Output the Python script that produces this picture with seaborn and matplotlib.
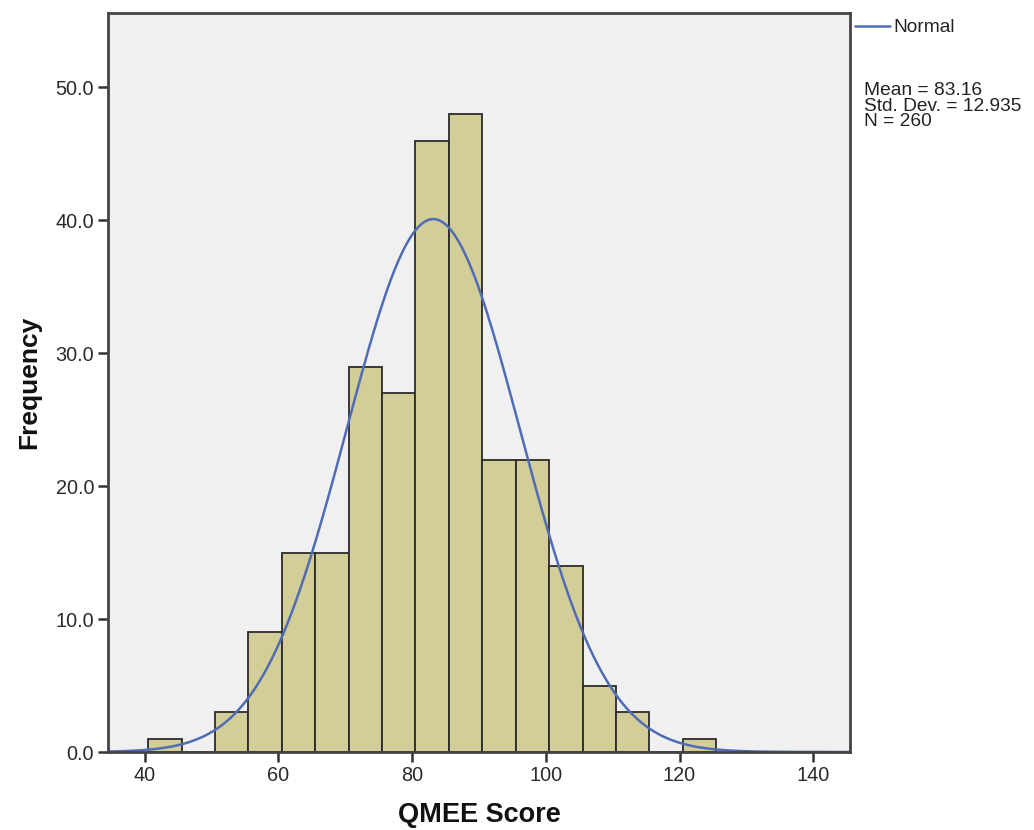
import numpy as np
import pandas as pd
import seaborn as sns
import matplotlib.pyplot as plt
from matplotlib.ticker import FormatStrFormatter

# histogram of QMEE scores (bins of width 5)
bin_left = [40.5, 45.5, 50.5, 55.5, 60.5, 65.5, 70.5, 75.5, 80.5, 85.5,
            90.5, 95.5, 100.5, 105.5, 110.5, 115.5, 120.5]
counts = [1, 0, 3, 9, 15, 15, 29, 27, 46, 48, 22, 22, 14, 5, 3, 0, 1]
mean_score = 83.16
std_score = 12.935
n_total = 260
bin_width = 5

sns.set_theme(style="white")
plt.rcParams['font.family'] = ['Liberation Sans', 'DejaVu Sans']

df = pd.DataFrame({'score': np.array(bin_left) + bin_width / 2, 'count': counts})
edges = list(bin_left) + [bin_left[-1] + bin_width]

fig = plt.figure(figsize=(10.34, 8.3), dpi=100)
ax = fig.add_axes([108 / 1034, 1 - 752 / 830, (850 - 108) / 1034, (752 - 13) / 830])
ax.set_facecolor('#F0F0F0')

sns.histplot(data=df, x='score', weights='count', bins=edges, ax=ax,
             color='#D3CE97', alpha=1, edgecolor='#2b2b2b', linewidth=1.3)

# fitted normal curve (from the mean / sd / N shown on the chart)
xs = np.linspace(34.5, 145.5, 400)
ys = n_total * bin_width * np.exp(-0.5 * ((xs - mean_score) / std_score) ** 2) / (std_score * np.sqrt(2 * np.pi))
sns.lineplot(x=xs, y=ys, ax=ax, color='#4F6CB5', linewidth=1.8)

ax.set_xlim(34.5, 145.5)
ax.set_ylim(0, 55.6)
ax.set_xticks([40, 60, 80, 100, 120, 140])
ax.set_yticks([0, 10, 20, 30, 40, 50])
ax.yaxis.set_major_formatter(FormatStrFormatter('%.1f'))
ax.tick_params(axis='both', which='major', length=7, width=1.8, color='#333333',
               labelsize=14.3, labelcolor='#2a2a2a', direction='out', pad=3)
ax.tick_params(axis='x', bottom=True)
ax.tick_params(axis='y', left=True)
for s in ax.spines.values():
    s.set_color('#444444')
    s.set_linewidth(2)

ax.set_xlabel('QMEE Score', fontsize=19.5, fontweight='bold', labelpad=12, color='#111111')
ax.set_ylabel('Frequency', fontsize=19, fontweight='bold', labelpad=10, color='#111111')

# legend-like annotation on the right
fig.add_artist(plt.Line2D([855 / 1034, 890 / 1034], [1 - 26 / 830, 1 - 26 / 830],
                          color='#4F6CB5', linewidth=1.8))
fig.text(893 / 1034, 1 - 27 / 830, 'Normal', fontsize=13.8, va='center', color='#222222')
stats_lines = ['Mean = %.2f' % mean_score, 'Std. Dev. = %.3f' % std_score, 'N = %d' % n_total]
for i, line in enumerate(stats_lines):
    fig.text(864 / 1034, 1 - (95 + 15.5 * i) / 830, line, fontsize=13.8,
             va='baseline', color='#222222')

fig.savefig('out.png', dpi=100)
